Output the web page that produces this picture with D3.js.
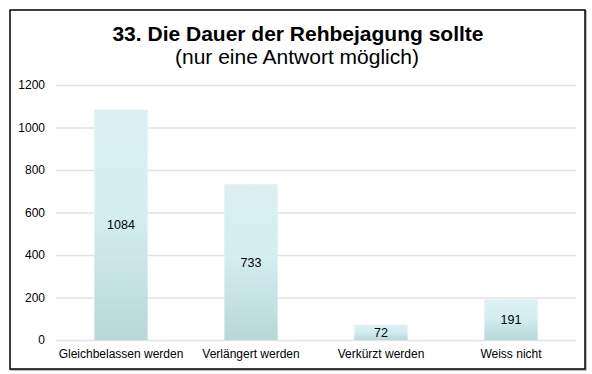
<!DOCTYPE html>
<html><head><meta charset="utf-8">
<script src="https://cdn.jsdelivr.net/npm/d3@7"></script>
<style>body{margin:0;background:#fff}svg{display:block;font-family:"Liberation Sans",Arial,sans-serif}</style>
</head><body><svg id="c" width="592" height="374"></svg>
<script>
const categories = ["Gleichbelassen werden","Verlängert werden","Verkürzt werden","Weiss nicht"];
const values = [1084, 733, 72, 191];
const yTicks = [0,200,400,600,800,1000,1200];
const title = "33. Die Dauer der Rehbejagung sollte";
const subtitle = "(nur eine Antwort möglich)";

const svg = d3.select("#c");
const m = {left:56, right:576, top:85, bottom:340};
const x = d3.scaleBand().domain(categories).range([m.left, m.right]).paddingInner(0.59).paddingOuter(0.295);
const y = d3.scaleLinear().domain([0,1200]).range([m.bottom, m.top]);

const defs = svg.append("defs");
const g = defs.append("linearGradient").attr("id","bg").attr("x1",0).attr("y1",0).attr("x2",0).attr("y2",1);
g.append("stop").attr("offset","0%").attr("stop-color","#dcf0f3");
g.append("stop").attr("offset","45%").attr("stop-color","#d4eef1");
g.append("stop").attr("offset","100%").attr("stop-color","#b8d7d8");

// frame
svg.append("rect").attr("x",11).attr("y",11).attr("width",575).attr("height",359).attr("fill","none").attr("stroke","#aaa").attr("stroke-width",1.5);
svg.append("rect").attr("x",10).attr("y",10).attr("width",575).attr("height",359).attr("fill","#fff").attr("stroke","#000").attr("stroke-width",1.5);

svg.append("text").attr("x",298).attr("y",41).attr("text-anchor","middle").attr("font-size",21).attr("font-weight","bold").text(title);
svg.append("text").attr("x",297).attr("y",64).attr("text-anchor","middle").attr("font-size",21).text(subtitle);

const yAxis = d3.axisLeft(y).tickValues(yTicks).tickSize(-(m.right-m.left)).tickPadding(11).tickFormat(d3.format("d"));
const ga = svg.append("g").attr("transform",`translate(${m.left},0)`).call(yAxis);
ga.select(".domain").remove();
ga.selectAll(".tick line").attr("stroke","#e3e3e3").attr("stroke-width",1.5);
ga.selectAll(".tick text").attr("font-size",12).attr("fill","#000").attr("font-family","Liberation Sans, Arial, sans-serif");

svg.selectAll("rect.bar").data(values).join("rect").attr("class","bar")
  .attr("x",(d,i)=>x(categories[i])).attr("width",x.bandwidth())
  .attr("y",d=>y(d)).attr("height",d=>y(0)-y(d)).attr("fill","url(#bg)");

svg.selectAll("text.val").data(values).join("text").attr("class","val")
  .attr("x",(d,i)=>x(categories[i])+x.bandwidth()/2).attr("y",d=>(y(d)+y(0))/2)
  .attr("dy","0.36em").attr("text-anchor","middle").attr("font-size",12.5).text(d=>d);

svg.selectAll("text.cat").data(categories).join("text").attr("class","cat")
  .attr("x",d=>x(d)+x.bandwidth()/2).attr("y",358).attr("text-anchor","middle").attr("font-size",12).text(d=>d);
</script></body></html>
